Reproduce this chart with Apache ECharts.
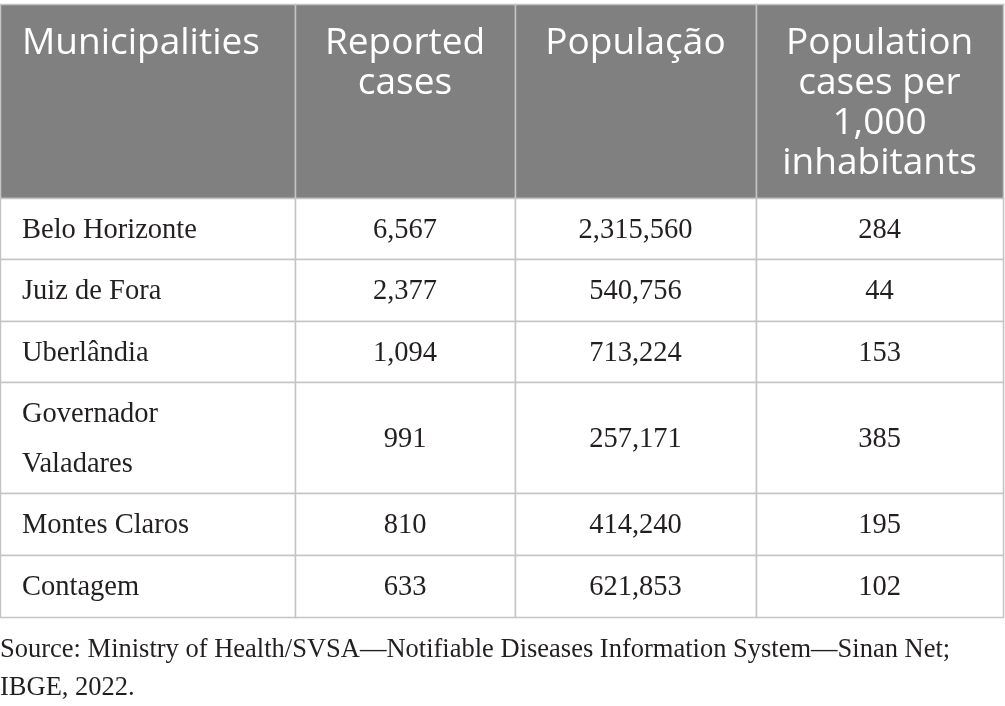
<!DOCTYPE html>
<html>
<head>
<meta charset="utf-8">
<style>
  html, body { margin: 0; padding: 0; background: #fff; }
  #main { width: 1005px; height: 706px; }
</style>
<script src="https://cdn.jsdelivr.net/npm/echarts@6/dist/echarts.min.js"></script>
</head>
<body>
<div id="main"></div>
<script>
// table data
var headers = ['Municipalities', 'Reported\ncases', 'População', 'Population\ncases per\n1,000\ninhabitants'];
var municipalities = ['Belo Horizonte', 'Juiz de Fora', 'Uberlândia', 'Governador\nValadares', 'Montes Claros', 'Contagem'];
var reportedCases = [6567, 2377, 1094, 991, 810, 633];
var population = [2315560, 540756, 713224, 257171, 414240, 621853];
var casesPer1000 = [284, 44, 153, 385, 195, 102];
var sourceNote = 'Source: Ministry of Health/SVSA\u2014Notifiable Diseases Information System\u2014Sinan Net;\nIBGE, 2022.';

// layout (page units, mapped through the hidden axes)
var colEdges = [0, 295, 515, 756, 1003];
var rowEdges = [4, 198, 259, 321, 382, 493, 555, 617];

var columns = [municipalities, reportedCases, population, casesPer1000];

function fmt(v) {
	return typeof v === 'number' ? v.toLocaleString('en-US') : v;
}

// one data item per cell: [col, row]
var cells = [];
for (var r = 0; r <= municipalities.length; r++) {
	for (var c = 0; c < headers.length; c++) {
		cells.push([c, r]);
	}
}

function renderCell(params, api) {
	var c = api.value(0), r = api.value(1);
	var p0 = api.coord([colEdges[c], rowEdges[r]]);
	var p1 = api.coord([colEdges[c + 1], rowEdges[r + 1]]);
	var isHead = r === 0;
	var text = isHead ? headers[c] : fmt(columns[c][r - 1]);
	var left = c === 0;
	var tx = left ? p0[0] + 22 : (p0[0] + p1[0]) / 2;
	var ty = isHead ? p0[1] + 19 : (p0[1] + p1[1]) / 2 + 2;
	return {
		type: 'group',
		children: [{
			type: 'rect',
			shape: { x: p0[0] + 0.5, y: p0[1] + 0.5, width: p1[0] - p0[0], height: p1[1] - p0[1] },
			style: { fill: isHead ? '#808080' : '#ffffff', stroke: '#c4c4c4', lineWidth: 1.5 }
		}, {
			type: 'text',
			x: tx,
			y: ty,
			style: {
				text: text,
				fill: isHead ? '#ffffff' : '#231f20',
				font: isHead ? '37px "Open Sans"' : '28.5px "Liberation Serif"',
				lineHeight: isHead ? 40 : 50,
				align: left ? 'left' : 'center',
				verticalAlign: isHead ? 'top' : 'middle'
			}
		}]
	};
}

var chart = echarts.init(document.getElementById('main'));
var option = {
	animation: false,
	title: {
		text: sourceNote,
		left: 0,
		top: 631,
		padding: 0,
		textStyle: {
			fontFamily: 'Liberation Serif',
			fontSize: 26.5,
			fontWeight: 'normal',
			color: '#231f20',
			lineHeight: 38
		}
	},
	grid: { left: 0, top: 0, width: 1005, height: 706 },
	xAxis: { type: 'value', min: 0, max: 1005, show: false },
	yAxis: { type: 'value', min: 0, max: 706, inverse: true, show: false },
	series: [{
		type: 'custom',
		renderItem: renderCell,
		data: cells,
		clip: false
	}]
};
chart.setOption(option);
</script>
</body>
</html>
